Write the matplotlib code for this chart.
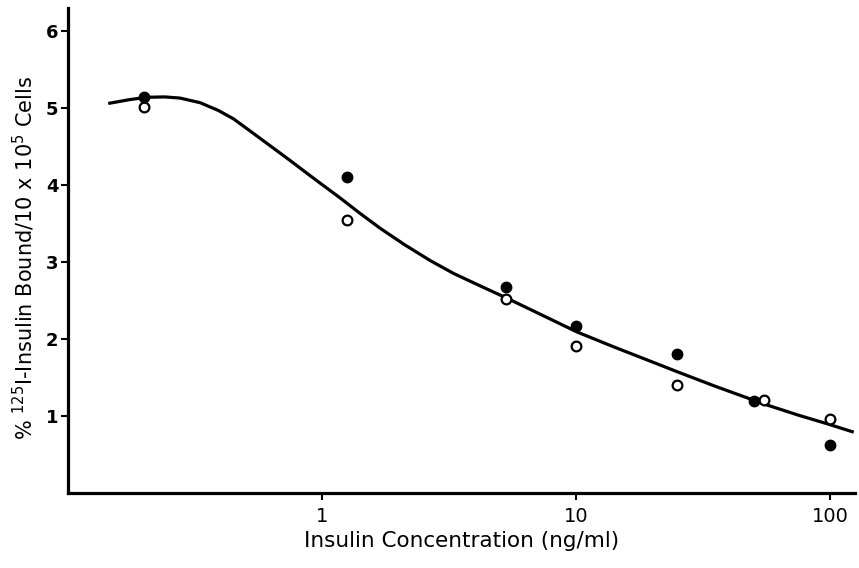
import matplotlib
matplotlib.use('Agg')
import matplotlib.pyplot as plt
import numpy as np

plt.rcParams['font.family'] = ['DejaVu Sans']

# filled circles
filled_x = [0.2, 1.25, 5.3, 10, 25, 50, 100]
filled_y = [5.14, 4.11, 2.67, 2.17, 1.81, 1.19, 0.63]
# open circles
open_x = [0.2, 1.25, 5.3, 10, 25, 55, 100]
open_y = [5.02, 3.55, 2.52, 1.91, 1.40, 1.21, 0.96]

# fitted curve
curve_x = [0.144, 0.175, 0.204, 0.24, 0.276, 0.331, 0.39, 0.448, 0.537, 0.727,
           0.924, 1.18, 1.4, 1.69, 2.1, 2.66, 3.3, 4.19, 5.34, 7.67, 10.1, 14.0,
           20.0, 25.2, 35.0, 55.5, 75.0, 97.0, 123.6]
curve_y = [5.06, 5.11, 5.14, 5.145, 5.13, 5.07, 4.97, 4.86, 4.67, 4.35,
           4.09, 3.83, 3.64, 3.44, 3.23, 3.02, 2.85, 2.69, 2.53, 2.28, 2.09, 1.90,
           1.70, 1.57, 1.39, 1.15, 1.01, 0.90, 0.79]

xticks = [1, 10, 100]
xticklabels = ['1', '10', '100']
yticks = [1, 2, 3, 4, 5, 6]

fig = plt.figure(figsize=(8.59, 5.68), dpi=100)
ax = fig.add_axes([68 / 859, 75 / 568, 787 / 859, 485 / 568])

ax.plot(curve_x, curve_y, color='black', lw=2.3, solid_joinstyle='round',
        solid_capstyle='butt')
ax.plot(open_x, open_y, 'o', ms=7, mfc='white', mec='black', mew=1.6, zorder=3)
ax.plot(filled_x, filled_y, 'o', ms=7.5, color='black', zorder=4)

ax.set_xscale('log')
ax.set_xlim(0.1, 125)
ax.set_ylim(0, 6.3)
ax.set_xticks(xticks)
ax.set_xticklabels(xticklabels)
ax.xaxis.set_minor_locator(matplotlib.ticker.NullLocator())
ax.set_yticks(yticks)
ax.set_yticklabels([str(v) for v in yticks], fontweight='bold')

for s in ['top', 'right']:
    ax.spines[s].set_visible(False)
for s in ['left', 'bottom']:
    ax.spines[s].set_linewidth(2.3)

ax.tick_params(axis='x', direction='out', length=5, width=1.5, labelsize=14, pad=5)
ax.tick_params(axis='y', direction='out', length=5, width=1.5, labelsize=13, pad=2)

ax.set_xlabel('Insulin Concentration (ng/ml)', fontsize=15.5, labelpad=4)
ax.set_ylabel(r'% $^{125}$I-Insulin Bound/10 x 10$^{5}$ Cells', fontsize=15)
ax.yaxis.set_label_coords(-0.040, 0.485)

fig.savefig('out.png', dpi=100)
